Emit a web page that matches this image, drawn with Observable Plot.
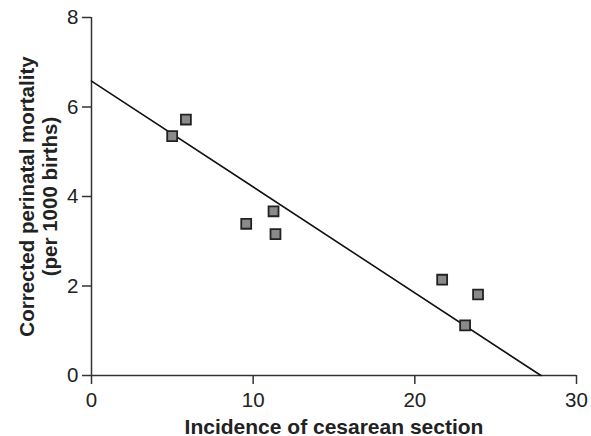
<!DOCTYPE html>
<html>
<head>
<meta charset="utf-8">
<script src="https://cdn.jsdelivr.net/npm/d3@7"></script>
<script src="https://cdn.jsdelivr.net/npm/@observablehq/plot@0.6"></script>
<style>
  html, body { margin: 0; padding: 0; background: #fff; }
</style>
</head>
<body>
<div id="chart"></div>
<script>
// Data
const cesareanIncidence = [4.99, 5.84, 9.57, 11.26, 11.38, 21.69, 23.11, 23.91];
const perinatalMortality = [5.35, 5.72, 3.39, 3.67, 3.16, 2.14, 1.12, 1.81];
// fitted line endpoints as drawn in the picture
const lineX = [0, 27.8];
const lineY = [6.58, 0];
const xTicks = [0, 10, 20, 30];
const yTicks = [0, 2, 4, 6, 8];
const xTitle = "Incidence of cesarean section";
const yTitle = "Corrected perinatal mortality\n(per 1000 births)";

const points = cesareanIncidence.map((x, i) => ({x, y: perinatalMortality[i]}));
const fitLine = lineX.map((x, i) => ({x, y: lineY[i]}));

const chart = Plot.plot({
  width: 591,
  height: 436,
  marginLeft: 91,
  marginRight: 15,
  marginTop: 17,
  marginBottom: 61,
  style: {fontFamily: "'Liberation Sans', Arial, Helvetica, sans-serif", fontSize: "20px", color: "#222", background: "#fff"},
  x: {domain: [0, 30]},
  y: {domain: [0, 8]},
  marks: [
    Plot.axisX({ticks: xTicks, tickSize: 9, tickPadding: 8, fontSize: 20.5, label: null, stroke: "#333", strokeWidth: 1.5, fill: "#222"}),
    Plot.axisY({ticks: yTicks, tickSize: 9, tickPadding: 4, fontSize: 20.5, label: null, stroke: "#333", strokeWidth: 1.5, fill: "#222"}),
    Plot.ruleY([0], {stroke: "#333", strokeWidth: 1.5}),
    Plot.ruleX([0], {stroke: "#333", strokeWidth: 1.5}),
    Plot.line(fitLine, {x: "x", y: "y", stroke: "#111", strokeWidth: 1.6}),
    Plot.dot(points, {x: "x", y: "y", symbol: "square", r: 5.6, fill: "#8a8a8a", stroke: "#222", strokeWidth: 1.8}),
    Plot.text([xTitle], {frameAnchor: "bottom", textAnchor: "middle", lineAnchor: "bottom", dy: 58, fontWeight: "bold", fontSize: 21, fill: "#222"}),
    Plot.text([yTitle], {frameAnchor: "left", textAnchor: "middle", lineAnchor: "middle", rotate: -90, dx: -53, lineHeight: 1.1, fontWeight: "bold", fontSize: 20.5, fill: "#222"})
  ]
});
document.getElementById("chart").appendChild(chart);
</script>
</body>
</html>
